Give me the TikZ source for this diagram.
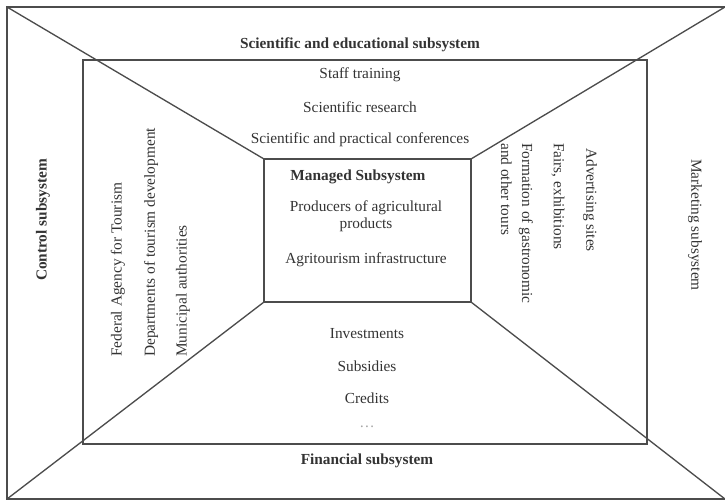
\documentclass[tikz,border=0pt]{standalone}
\usepackage{fontspec}
\setmainfont{Liberation Serif}

\begin{document}
\begin{tikzpicture}[x=0.75pt,y=-0.75pt]

\tikzset{Frame/.style={draw=black!70,line width=1pt},
  Txt/.style={font=\fontsize{11.5}{14}\selectfont,text=black!80,inner sep=0pt},
  Title/.style={Txt,font=\fontsize{11.5}{14}\selectfont\bfseries},
  Up/.style={Txt,rotate=90,anchor=west},
  Down/.style={Txt,rotate=-90,anchor=west}}

  \useasboundingbox (0,0) rectangle (725,501);

  % outer frame
  \coordinate (o1) at (7,7);
  \coordinate (o2) at (725,7);
  \coordinate (o3) at (725,499);
  \coordinate (o4) at (7,499);
  % inner frame
  \coordinate (i1) at (83,60);
  \coordinate (i3) at (647,444);
  % managed subsystem
  \coordinate (m1) at (264,159);
  \coordinate (m2) at (471,159);
  \coordinate (m3) at (471,302);
  \coordinate (m4) at (264,302);

  \draw[Frame] (o2) -- (o1) -- (o4) -- (o3);
  \draw[Frame] (i1) rectangle (i3);
  \draw[Frame] (m1) rectangle (m3);

  \draw[Frame] (o1) -- (m1);
  \draw[Frame] (o2) -- (m2);
  \draw[Frame] (o3) -- (m3);
  \draw[Frame] (o4) -- (m4);

  % top
  \node[Title] (sci) at (360,45) {Scientific and educational subsystem};
  \node[Txt] (staff) at (360,75) {Staff training};
  \node[Txt] (res) at (360,107) {Scientific research};
  \node[Txt] (conf) at (360,140) {Scientific and practical conferences};

  % centre
  \node[Title] (man) at (358,177) {Managed Subsystem};
  \node[Txt,align=center,font=\fontsize{11.5}{13}\selectfont] (prod) at (366,216) {Producers of agricultural\\products};
  \node[Txt] (agri) at (366,260) {Agritourism infrastructure};

  % bottom
  \node[Txt] (inv) at (367,334) {Investments};
  \node[Txt] (sub) at (367,366) {Subsidies};
  \node[Txt] (cred) at (367,398) {Credits};
  \node[Txt,text=black!35] (etc) at (367,427) {\dots};
  \node[Title] (fin) at (367,461) {Financial subsystem};

  % left
  \node[Title,rotate=90] (ctrl) at (43,220) {Control subsystem};
  \node[Up] (fed) at (118,357) {Federal Agency for Tourism};
  \node[Up] (dep) at (151,357) {Departments of tourism development};
  \node[Up] (mun) at (183,357) {Municipal authorities};

  % right
  \node[Down,align=left,font=\fontsize{11.5}{15.75}\selectfont] (form) at (517,143) {Formation of gastronomic\\and other tours};
  \node[Down] (fair) at (558,143) {Fairs, exhibitions};
  \node[Down] (adv) at (590,148) {Advertising sites};
  \node[Txt,rotate=-90] (mkt) at (695,225) {Marketing subsystem};

\end{tikzpicture}
\end{document}
